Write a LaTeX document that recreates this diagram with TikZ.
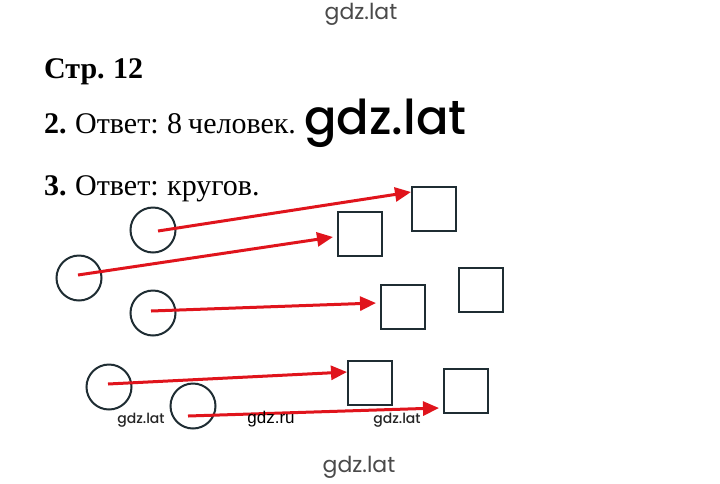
\documentclass[tikz,border=0pt]{standalone}
\usepackage{fontspec}
\setmainfont{Liberation Serif}
\newfontfamily\wmfont{Poppins}
\newfontfamily\wmmed{Poppins}[UprightFont=* Medium]
\newfontfamily\arialfont{Liberation Sans}
\usetikzlibrary{arrows.meta}
\definecolor{inkdark}{HTML}{1F2D33}
\definecolor{arrowred}{HTML}{E0141C}
\definecolor{wmgray}{HTML}{4A4A4A}
\newcommand\headfontsel{\fontsize{30}{34}\selectfont\spaceskip=0.2em\relax}
\tikzset{
  ring/.style={circle, draw=inkdark, line width=2pt, minimum size=45pt, inner sep=0pt},
  boxsq/.style={rectangle, draw=inkdark, line width=2pt, minimum size=44pt, inner sep=0pt},
  redarrow/.style={draw=arrowred, line width=3pt, -{Triangle[length=16pt,width=14pt]}},
  headtext/.style={anchor=base west, inner sep=0pt, font=\headfontsel},
  wmsmall/.style={inner sep=0pt, text=black!85, font=\wmmed\fontsize{14}{16}\selectfont},
  wmbig/.style={inner sep=0pt, text=wmgray, font=\wmfont\fontsize{22}{26}\selectfont}
}
\begin{document}
\begin{tikzpicture}[x=1pt,y=-1pt]
\useasboundingbox[fill=white] (0,0) rectangle (720,483);
% headings
\node[wmbig] (wtop) at (361,14) {gdz.lat};
\node[headtext] (h1) at (44,78) {\textbf{Стр. 12}};
\node[headtext] (h2) at (44,133) {\textbf{2.} Ответ: 8 человек.};
\node[inner sep=0pt, anchor=base west, font=\wmmed\fontsize{48}{52}\selectfont] (wbig) at (304,134) {gdz.lat};
\node[headtext] (h3) at (44,195) {\textbf{3.} Ответ: кругов.};
% circles
\node[ring] (c1) at (153,230) {};
\node[ring] (c2) at (79,278) {};
\node[ring] (c3) at (153,313) {};
\node[ring] (c4) at (109,387) {};
\node[ring] (c5) at (193,406) {};
% squares
\node[boxsq] (s1) at (433.5,209) {};
\node[boxsq] (s2) at (360,234) {};
\node[boxsq] (s3) at (480.5,290) {};
\node[boxsq] (s4) at (402.5,307) {};
\node[boxsq] (s5) at (369.5,382.5) {};
\node[boxsq] (s6) at (466,391) {};
% arrow ends
\coordinate (t1) at (411,192);
\coordinate (t2) at (333,237);
\coordinate (t3) at (376,303);
\coordinate (t4) at (347,372);
\coordinate (t5) at (439,408);
\draw[redarrow] (c1.center) ++(5,1) -- (t1);
\draw[redarrow] (c2.center) ++(-1,-3) -- (t2);
\draw[redarrow] (c3.center) ++(-2,-2) -- (t3);
\draw[redarrow] (c4.center) ++(-1,-3) -- (t4);
\draw[redarrow] (c5.center) ++(-5,10) -- (t5);
% watermarks
\node[wmsmall] (w1) at (141,420) {gdz.lat};
\node[inner sep=0pt, font=\arialfont\fontsize{17}{19}\selectfont] (w2) at (271,419) {gdz.ru};
\node[wmsmall, fill=white, inner sep=1pt] (w3) at (397,420) {gdz.lat};
\node[wmbig] (wbot) at (359,467) {gdz.lat};
\end{tikzpicture}
\end{document}
